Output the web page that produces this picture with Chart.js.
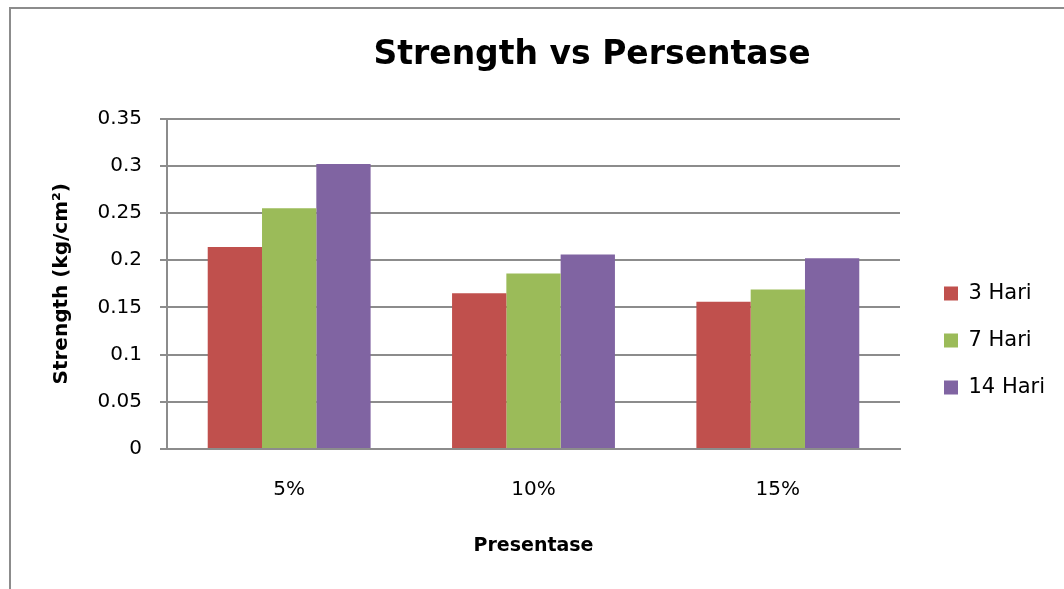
<!DOCTYPE html>
<html>
<head>
<meta charset="utf-8">
<title>Strength vs Persentase</title>
<script src="https://cdn.jsdelivr.net/npm/chart.js@4/dist/chart.umd.min.js"></script>
<style>
  html, body { margin: 0; padding: 0; background: #fff; overflow: hidden; }
  #frame {
    position: absolute; left: 9px; top: 7px;
    width: 1100px; height: 700px;
    border: 2px solid #8c8c8c;
  }
  #wrap { position: absolute; left: 0; top: 0; width: 1064px; height: 589px; }
</style>
</head>
<body>
<div id="frame"></div>
<div id="wrap"><canvas id="strengthChart" width="1064" height="589"></canvas></div>
<script>
// data
const categories = ['5%', '10%', '15%'];
const hari3 = [0.214, 0.165, 0.156];
const hari7 = [0.255, 0.186, 0.169];
const hari14 = [0.302, 0.206, 0.202];
const yTickLabels = ['0', '0.05', '0.1', '0.15', '0.2', '0.25', '0.3', '0.35'];

const FONT = "'DejaVu Sans', sans-serif";
const GRID = '#8c8c8c';

// move title + legend to where Excel put them
const placeBlocks = {
    id: 'placeBlocks',
    afterLayout(chart) {
        const t = chart.titleBlock;
        if (t) {
            t.left = 120;
            t.right = 1064;
        }
        const lg = chart.legend;
        if (lg) {
            const w = lg.width, h = lg.height;
            lg.left = 918;
            lg.right = lg.left + w;
            lg.top = 257;
            lg.bottom = lg.top + h;
        }
    }
};

const ctx = document.getElementById('strengthChart');
const chart = new Chart(ctx, {
    type: 'bar',
    data: {
        labels: categories,
        datasets: [
            { label: '3 Hari', data: hari3, backgroundColor: '#C0504D' },
            { label: '7 Hari', data: hari7, backgroundColor: '#9BBB59' },
            { label: '14 Hari', data: hari14, backgroundColor: '#8064A2' }
        ]
    },
    options: {
        responsive: false,
        animation: false,
        datasets: {
            bar: { barPercentage: 1, categoryPercentage: 3 / 4.5, borderWidth: 0 }
        },
        layout: { padding: { top: 0, left: 0, right: 164, bottom: 0 } },
        plugins: {
            title: {
                display: true,
                text: 'Strength vs Persentase',
                color: '#000',
                font: { family: FONT, size: 33, weight: 'bold', lineHeight: 1.2 },
                padding: { top: 36, bottom: 43 }
            },
            legend: {
                position: 'chartArea',
                align: 'start',
                labels: {
                    color: '#000',
                    font: { family: FONT, size: 21 },
                    boxWidth: 14,
                    boxHeight: 14,
                    padding: 26
                }
            },
            tooltip: { enabled: false }
        },
        scales: {
            x: {
                grid: { display: false, drawTicks: false },
                border: { display: true, color: GRID, width: 2 },
                ticks: {
                    color: '#000',
                    font: { family: FONT, size: 20 },
                    padding: 29
                },
                title: {
                    display: true,
                    text: 'Presentase',
                    color: '#000',
                    font: { family: FONT, size: 19, weight: 'bold', lineHeight: 1.2 },
                    padding: { top: 0, bottom: 32 }
                },
                afterFit(scale) { scale.height = 140; }
            },
            y: {
                min: 0,
                max: 0.35,
                grid: { color: GRID, lineWidth: 2, drawTicks: true, tickLength: 7, tickColor: GRID },
                border: { display: true, color: GRID, width: 2 },
                ticks: {
                    stepSize: 0.05,
                    color: '#000',
                    font: { family: FONT, size: 20 },
                    padding: 18,
                    callback: (v, i) => yTickLabels[i]
                },
                title: {
                    display: true,
                    text: 'Strength (kg/cm²)',
                    color: '#000',
                    font: { family: FONT, size: 20, weight: 'bold', lineHeight: 1.2 },
                    padding: { top: 50, bottom: 0 }
                },
                afterFit(scale) { scale.width = 167; }
            }
        }
    },
    plugins: [placeBlocks]
});
</script>
</body>
</html>
